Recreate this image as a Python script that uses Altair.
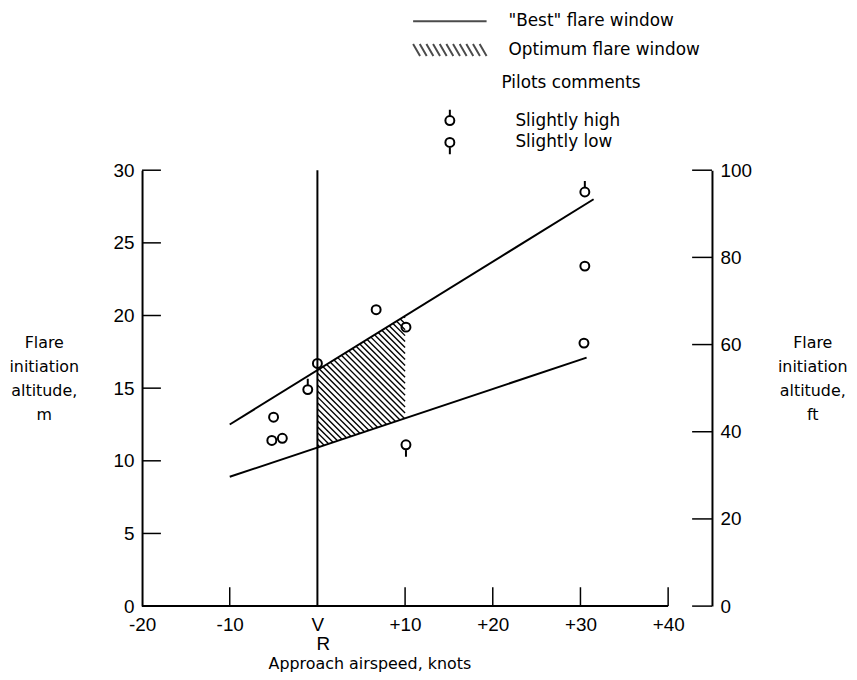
import altair as alt
import numpy as np
import pandas as pd

# ---------------- data ----------------
x_tick_values = [-20, -10, 0, 10, 20, 30, 40]          # knots relative to V_R
y_tick_values_m = [0, 5, 10, 15, 20, 25, 30]            # m
y_tick_values_ft = [0, 20, 40, 60, 80, 100]             # ft

# "Best" flare window boundary lines (x in knots, y in m)
upper_x = [-10.0, 31.5]
upper_y = [12.5, 28.0]
lower_x = [-10.0, 30.7]
lower_y = [8.9, 17.1]

# Optimum flare window: hatched between the lines over this airspeed range
optimum_x = [0.0, 10.0]

# Pilot data points
pt_x = [-5.0, -5.2, -4.0, -1.1, 0.0, 6.7, 10.1, 10.1, 30.5, 30.5, 30.4]
pt_y = [13.0, 11.4, 11.55, 14.9, 16.7, 20.4, 19.2, 11.1, 28.5, 23.4, 18.1]
pt_comment = ["No comment", "No comment", "No comment", "Slightly high", "No comment",
              "No comment", "No comment", "Slightly low", "Slightly high", "No comment",
              "No comment"]

legend1_items = ['"Best" flare window', "Optimum flare window"]
legend2_items = ["Slightly high", "Slightly low", "No comment"]

# ---------------- layout / style ----------------
W, H = 574, 439
X_DOM = [-20, 45]
Y_DOM = [0, 30]
FT_DOM = [0, 100]
KX = W / (X_DOM[1] - X_DOM[0])   # px per knot
KY = H / (Y_DOM[1] - Y_DOM[0])   # px per m
TXTF = "DejaVu Sans"
NUMF = "Liberation Sans"
NUMS = 19
LW = 2

xs = alt.Scale(domain=X_DOM, nice=False, zero=False)
ys = alt.Scale(domain=Y_DOM, nice=False, zero=False)
fts = alt.Scale(domain=FT_DOM, nice=False, zero=False)

x_axis = alt.Axis(values=x_tick_values, domain=False, ticks=False, grid=False,
                  labelExpr="datum.value == 0 ? 'V' : (datum.value > 0 ? '+' + datum.value : '' + datum.value)",
                  labelFont=NUMF, labelFontSize=NUMS, labelPadding=10, labelColor="black",
                  labelFlush=False, labelOverlap=False,
                  title="Approach airspeed, knots", titleFont=TXTF, titleFontSize=16,
                  titleFontWeight="normal", titleColor="black",
                  titleX=229, titleY=58, titleAlign="center", titleBaseline="middle")

y_axis = alt.Axis(values=y_tick_values_m, domain=True, domainColor="black", domainWidth=LW,
                  ticks=False, grid=False, labelFont=NUMF, labelFontSize=NUMS, labelPadding=8,
                  labelColor="black", labelFlush=False, labelOverlap=False,
                  title=["Flare", "initiation", "altitude,", "m"], titleAngle=0,
                  titleAlign="center", titleBaseline="top", titleX=-99, titleY=166,
                  titleLineHeight=24, titleFont=TXTF, titleFontSize=16,
                  titleFontWeight="normal", titleColor="black")

ft_axis = alt.Axis(orient="right", values=y_tick_values_ft, domain=True, domainColor="black",
                   domainWidth=LW, ticks=False, grid=False, labelFont=NUMF, labelFontSize=NUMS,
                   labelPadding=8, labelColor="black", labelFlush=False, labelOverlap=False,
                   title=["Flare", "initiation", "altitude,", "ft"], titleAngle=0,
                   titleAlign="center", titleBaseline="top", titleX=101, titleY=166,
                   titleLineHeight=24, titleFont=TXTF, titleFontSize=16,
                   titleFontWeight="normal", titleColor="black")


def X(f):
    return alt.X(f, type="quantitative", scale=xs, axis=x_axis)


def Y(f):
    return alt.Y(f, type="quantitative", scale=ys, axis=y_axis)


# ---------------- derived tables ----------------
lines_df = pd.DataFrame({"x": [upper_x[0], lower_x[0]], "x2": [upper_x[1], lower_x[1]],
                         "y": [upper_y[0], lower_y[0]], "y2": [upper_y[1], lower_y[1]]})

su = (upper_y[1] - upper_y[0]) / (upper_x[1] - upper_x[0])
sl = (lower_y[1] - lower_y[0]) / (lower_x[1] - lower_x[0])
k0, k1 = optimum_x
u0 = upper_y[0] + su * (k0 - upper_x[0])
l0 = lower_y[0] + sl * (k0 - lower_x[0])
# hatch lines at 45 deg on screen, going down to the right
s = -KX / KY
spacing_px = 6.0
da = spacing_px / KX * (-s)
rows = []
a_min = l0 - s * k0
a_max = (u0 + su * (k1 - k0)) - s * k1
for a in np.arange(a_min + da / 2, a_max, da):
    lo = max(k0, (a - u0 + su * k0) / (su - s))
    hi = min(k1, (a - l0 + sl * k0) / (sl - s))
    if hi > lo:
        rows.append({"x": lo, "y": a + s * lo, "x2": hi, "y2": a + s * hi})
hatch_df = pd.DataFrame(rows)

tick_len_px = 19
left_ticks = pd.DataFrame({"y": y_tick_values_m, "x": X_DOM[0], "x2": X_DOM[0] + tick_len_px / KX})
bottom_ticks = pd.DataFrame({"x": [v for v in x_tick_values if v not in (X_DOM[0], 0)],
                             "y": 0.0, "y2": tick_len_px / KY})
right_ticks = pd.DataFrame({"ft": y_tick_values_ft, "x": X_DOM[1], "x2": X_DOM[1] - 20 / KX})
baseline_df = pd.DataFrame({"x": [x_tick_values[0]], "x2": [x_tick_values[-1]], "y": [0.0]})
vr_df = pd.DataFrame({"x": [0.0], "y": [Y_DOM[0]], "y2": [Y_DOM[1]]})
sub_df = pd.DataFrame({"x": [0.0], "y": [0.0], "t": ["R"]})
pts_df = pd.DataFrame({"x": pt_x, "y": pt_y, "c": pt_comment})
leg1_df = pd.DataFrame({"item": legend1_items})

# ---------------- symbol paths (unit box, size 400 -> 10 px per unit) ----------------
circ = "M0.45,0A0.45,0.45,0,1,1,-0.45,0A0.45,0.45,0,1,1,0.45,0Z"
path_high = circ + "M0,-0.45L0,-1.1"
path_low = circ + "M0,0.45L0,1.2"
path_line = "M-3.7,0L3.7,0"
path_hatch = "".join(f"M{x0:.2f},-0.6L{x0 + 0.7:.2f},0.6" for x0 in np.arange(-3.7, 3.05, 0.67))

# ---------------- layers ----------------
vr_rule = alt.Chart(vr_df).mark_rule(strokeWidth=LW, color="black").encode(
    x=X("x"), y=Y("y"), y2="y2")
hatch = alt.Chart(hatch_df).mark_rule(strokeWidth=1.4, color="black").encode(
    x=X("x"), y=Y("y"), x2="x2", y2="y2")
best = alt.Chart(lines_df).mark_rule(strokeWidth=LW, color="black").encode(
    x=X("x"), y=Y("y"), x2="x2", y2="y2")
lt = alt.Chart(left_ticks).mark_rule(strokeWidth=1.5, color="black").encode(
    x=X("x"), x2="x2", y=Y("y"))
bt = alt.Chart(bottom_ticks).mark_rule(strokeWidth=1.5, color="black").encode(
    x=X("x"), y=Y("y"), y2="y2")
base = alt.Chart(baseline_df).mark_rule(strokeWidth=LW, color="black").encode(
    x=X("x"), x2="x2", y=Y("y"))
sub = alt.Chart(sub_df).mark_text(font=NUMF, fontSize=NUMS, color="black", dx=6, dy=38).encode(
    x=X("x"), y=Y("y"), text="t:N")

pts = alt.Chart(pts_df).mark_point(size=400, filled=False, strokeWidth=2, color="black",
                                   opacity=1).encode(
    x=X("x"), y=Y("y"),
    shape=alt.Shape("c:N", scale=alt.Scale(domain=legend2_items,
                                           range=[path_high, path_low, circ]),
                    legend=alt.Legend(title="Pilots comments", titleFont=TXTF, titleFontSize=17,
                                      titleFontWeight="normal", titleColor="black",
                                      titlePadding=18, orient="none", legendX=362, legendY=-96,
                                      values=["Slightly high", "Slightly low"], symbolSize=400,
                                      symbolStrokeWidth=2, symbolStrokeColor="black",
                                      symbolFillColor="transparent",
                                      symbolOffset={"expr": "-63"},
                                      labelOffset=55,
                                      labelFont=TXTF, labelFontSize=17,
                                      labelColor="black", rowPadding=2, padding=0)))

leg1 = alt.Chart(leg1_df).transform_filter("false").mark_point(
    size=400, filled=False, strokeWidth=2, color="black").encode(
    shape=alt.Shape("item:N", scale=alt.Scale(domain=legend1_items, range=[path_line, path_hatch]),
                    legend=alt.Legend(title=None, orient="none", legendX=299, legendY=-161,
                                      symbolSize=400, symbolStrokeWidth=2,
                                      symbolStrokeColor="black", symbolFillColor="transparent",
                                      labelOffset=48, labelFont=TXTF, labelFontSize=17,
                                      labelColor="black", rowPadding=10, padding=0,
                                      labelLimit=400)))

m_layer = alt.layer(hatch, vr_rule, best, lt, bt, base, sub, pts, leg1).resolve_scale(
    shape="independent")

ft_layer = alt.Chart(right_ticks).mark_rule(strokeWidth=1.5, color="black").encode(
    x=X("x"), x2="x2", y=alt.Y("ft:Q", scale=fts, axis=ft_axis))

chart = alt.layer(m_layer, ft_layer).resolve_scale(y="independent").properties(
    width=W, height=H,
    autosize=alt.AutoSizeParams(type="none"),
    padding={"left": 135, "top": 161, "right": 138, "bottom": 64},
    background="white",
).configure_view(strokeWidth=0)

chart.save("out.html", embed_options={"renderer": "svg", "actions": False})
